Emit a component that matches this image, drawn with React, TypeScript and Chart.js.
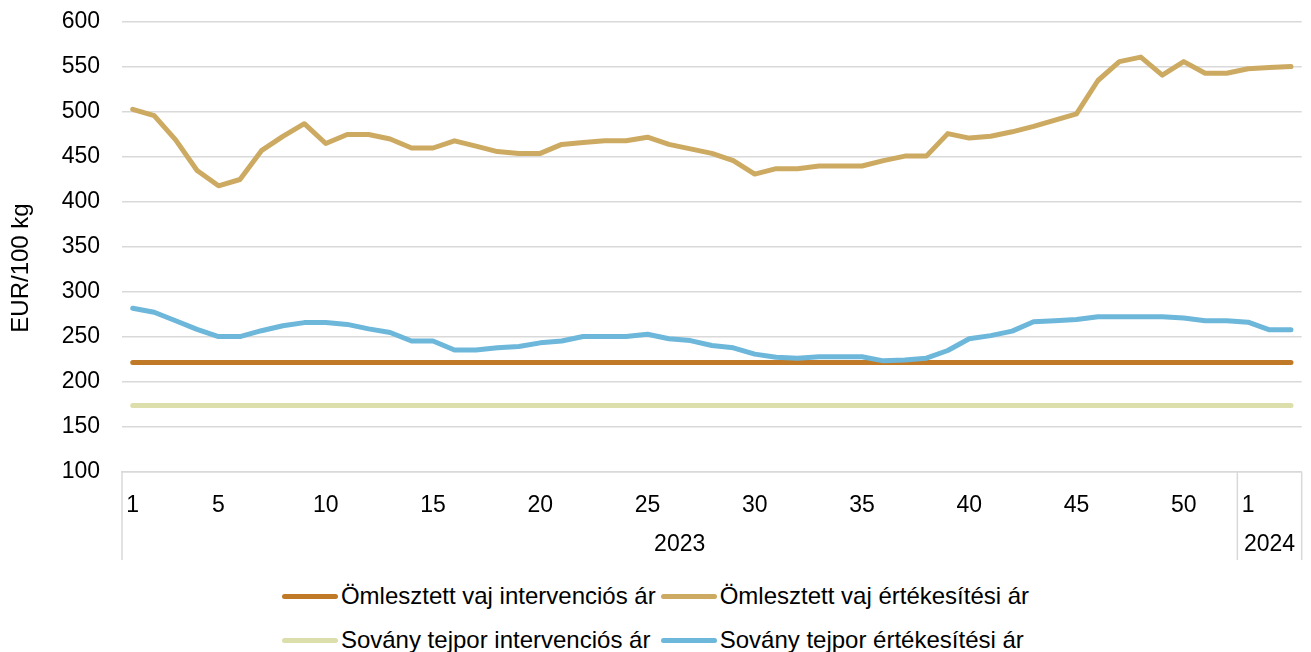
import React, { useEffect, useRef } from "react";
import { Chart, registerables } from "chart.js";

Chart.register(...registerables);

const weekLabels: string[] = [
  "1", "2", "3", "4", "5", "6", "7", "8", "9", "10",
  "11", "12", "13", "14", "15", "16", "17", "18", "19", "20",
  "21", "22", "23", "24", "25", "26", "27", "28", "29", "30",
  "31", "32", "33", "34", "35", "36", "37", "38", "39", "40",
  "41", "42", "43", "44", "45", "46", "47", "48", "49", "50",
  "51", "52", "1", "2", "3",
];
const weekYears: string[] = [
  "2023", "2023", "2023", "2023", "2023", "2023", "2023", "2023", "2023", "2023",
  "2023", "2023", "2023", "2023", "2023", "2023", "2023", "2023", "2023", "2023",
  "2023", "2023", "2023", "2023", "2023", "2023", "2023", "2023", "2023", "2023",
  "2023", "2023", "2023", "2023", "2023", "2023", "2023", "2023", "2023", "2023",
  "2023", "2023", "2023", "2023", "2023", "2023", "2023", "2023", "2023", "2023",
  "2023", "2023", "2024", "2024", "2024",
];
const shownWeekLabels: string[] = ["1", "5", "10", "15", "20", "25", "30", "35", "40", "45", "50"];

const butterIntervention: number[] = [
  221.75, 221.75, 221.75, 221.75, 221.75, 221.75, 221.75, 221.75, 221.75, 221.75,
  221.75, 221.75, 221.75, 221.75, 221.75, 221.75, 221.75, 221.75, 221.75, 221.75,
  221.75, 221.75, 221.75, 221.75, 221.75, 221.75, 221.75, 221.75, 221.75, 221.75,
  221.75, 221.75, 221.75, 221.75, 221.75, 221.75, 221.75, 221.75, 221.75, 221.75,
  221.75, 221.75, 221.75, 221.75, 221.75, 221.75, 221.75, 221.75, 221.75, 221.75,
  221.75, 221.75, 221.75, 221.75, 221.75,
];
const butterSelling: number[] = [
  503, 496, 469, 435, 418, 425, 457, 473, 487, 465,
  475, 475, 470, 460, 460, 468, 462, 456, 454, 454,
  464, 466, 468, 468, 472, 464, 459, 454, 446, 431,
  437, 437, 440, 440, 440, 446, 451, 451, 476, 471,
  473, 478, 484, 491, 498, 535, 556, 561, 541, 556,
  543, 543, 548, 549.5, 550.5,
];
const smpIntervention: number[] = [
  174, 174, 174, 174, 174, 174, 174, 174, 174, 174,
  174, 174, 174, 174, 174, 174, 174, 174, 174, 174,
  174, 174, 174, 174, 174, 174, 174, 174, 174, 174,
  174, 174, 174, 174, 174, 174, 174, 174, 174, 174,
  174, 174, 174, 174, 174, 174, 174, 174, 174, 174,
  174, 174, 174, 174, 174,
];
const smpSelling: number[] = [
  282, 277.5, 268, 258.5, 250.5, 250.5, 257, 262.5, 266, 266,
  264, 259, 255, 245.5, 245.5, 235.5, 235.5, 238, 239.5, 243.5,
  245.5, 250.5, 250.5, 250.5, 253, 248, 246, 240.5, 238, 231,
  227.5, 226.5, 228, 228, 228, 223.5, 224.5, 226.5, 235, 248,
  251.5, 256.5, 267, 268, 269.5, 272.5, 272.5, 272.5, 272.5, 271,
  268, 268, 266.5, 258, 258,
];

const seriesNames: string[] = [
  "Ömlesztett vaj intervenciós ár",
  "Ömlesztett vaj értékesítési ár",
  "Sovány tejpor intervenciós ár",
  "Sovány tejpor értékesítési ár",
];
const seriesColors: string[] = ["#C07A27", "#CDAA62", "#DCDFAB", "#6DB7DA"];

const yTitle = "EUR/100 kg";
const FONT = "'Liberation Sans', Arial, sans-serif";

const categoryPlugin = {
  id: "categoryPlugin",
  afterDraw(chart: any) {
    const { ctx, chartArea, scales } = chart;
    const x = scales.x;
    const step = x.getPixelForValue(1) - x.getPixelForValue(0);
    const bottom = 560;
    const groups: { year: string; start: number; end: number }[] = [];
    weekYears.forEach((y, i) => {
      const g = groups[groups.length - 1];
      if (g && g.year === y) g.end = i;
      else groups.push({ year: y, start: i, end: i });
    });
    ctx.save();
    ctx.strokeStyle = "#D9D9D9";
    ctx.lineWidth = 1.5;
    const bounds: number[] = [x.getPixelForValue(0) - step / 2];
    groups.forEach((g) => bounds.push(x.getPixelForValue(g.end) + step / 2));
    bounds.forEach((bx) => {
      ctx.beginPath();
      ctx.moveTo(bx, chartArea.bottom);
      ctx.lineTo(bx, bottom);
      ctx.stroke();
    });
    ctx.fillStyle = "#000";
    ctx.font = `23px ${FONT}`;
    ctx.textAlign = "center";
    ctx.textBaseline = "middle";
    groups.forEach((g) => {
      const l = x.getPixelForValue(g.start) - step / 2;
      const r = x.getPixelForValue(g.end) + step / 2;
      ctx.fillText(g.year, (l + r) / 2, 545);
    });
    ctx.font = `24px ${FONT}`;
    ctx.translate(21, 268);
    ctx.rotate(-Math.PI / 2);
    ctx.fillText(yTitle, 0, 0);
    ctx.restore();
  },
};

function LegendItem({ color, label }: { color: string; label: string }) {
  return (
    <div style={{ display: "flex", alignItems: "center", whiteSpace: "nowrap" }}>
      <span
        style={{
          display: "inline-block",
          width: 56,
          height: 5,
          borderRadius: 3,
          background: color,
          marginRight: 3,
        }}
      />
      <span>{label}</span>
    </div>
  );
}

export default function App() {
  const ref = useRef<HTMLCanvasElement | null>(null);

  useEffect(() => {
    if (!ref.current) return;
    const datasets = [butterIntervention, butterSelling, smpIntervention, smpSelling].map((d, i) => ({
      label: seriesNames[i],
      data: d,
      borderColor: seriesColors[i],
      backgroundColor: seriesColors[i],
      borderWidth: 5,
      borderCapStyle: "round" as const,
      borderJoinStyle: "round" as const,
      pointRadius: 0,
      tension: 0,
      order: i === 3 ? 0 : i + 1,
    }));
    const chart = new Chart(ref.current, {
      type: "line",
      data: { labels: weekLabels, datasets },
      plugins: [categoryPlugin],
      options: {
        animation: false,
        responsive: false,
        maintainAspectRatio: false,
        layout: { padding: { left: 0, right: 4, top: 22, bottom: 0 } },
        plugins: { legend: { display: false }, tooltip: { enabled: false } },
        scales: {
          x: {
            offset: true,
            grid: { display: false, drawTicks: false },
            border: { display: true, color: "#D9D9D9", width: 1.5 },
            ticks: {
              autoSkip: false,
              maxRotation: 0,
              padding: 20,
              color: "#000",
              font: { size: 23, family: FONT },
              callback: (_v: any, i: number) => {
                const lab = weekLabels[i];
                if (weekYears[i] === "2023") return shownWeekLabels.includes(lab) ? lab : "";
                return lab === "1" ? lab : "";
              },
            },
            afterFit: (s: any) => {
              s.height = 106;
            },
          },
          y: {
            min: 100,
            max: 600,
            ticks: {
              stepSize: 50,
              padding: 22,
              color: "#000",
              font: { size: 23, family: FONT },
            },
            grid: { color: "#D9D9D9", lineWidth: 1.5, drawTicks: false },
            border: { display: false },
            afterFit: (s: any) => {
              s.width = 122;
              s.paddingTop = 0;
              s.paddingBottom = 0;
            },
          },
        },
      },
    });
    return () => chart.destroy();
  }, []);

  return (
    <div style={{ position: "absolute", left: 0, top: 0, width: 1311, height: 652, background: "#fff" }}>
      <canvas ref={ref} width={1311} height={578} style={{ display: "block", width: 1311, height: 578 }} />
      <div
        style={{
          display: "grid",
          gridTemplateColumns: "auto auto",
          columnGap: 5,
          rowGap: 16,
          justifyContent: "center",
          fontFamily: FONT,
          fontSize: 24,
          lineHeight: "28px",
          color: "#000",
          marginTop: 4,
        }}
      >
        {seriesNames.map((s, i) => (
          <LegendItem key={s} color={seriesColors[i]} label={s} />
        ))}
      </div>
    </div>
  );
}
